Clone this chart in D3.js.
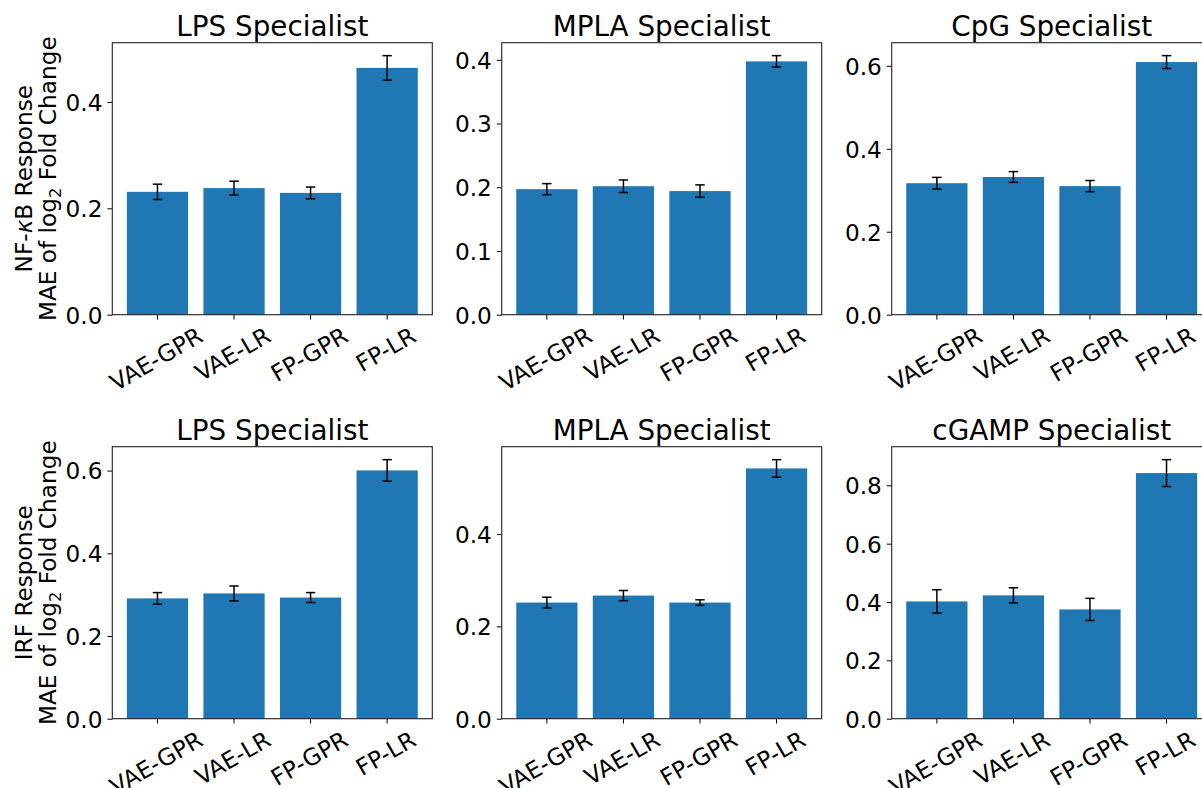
<!DOCTYPE html>
<html>
<head>
<meta charset="utf-8">
<script src="https://cdn.jsdelivr.net/npm/d3@7"></script>
<style>
  html, body { margin: 0; padding: 0; background: #fff; overflow: hidden; }
  svg { display: block; font-family: "DejaVu Sans", sans-serif; }
</style>
</head>
<body>
<svg id="chart" width="1202" height="788"></svg>
<script>
// ---- data ----
const categories = ["VAE-GPR", "VAE-LR", "FP-GPR", "FP-LR"];

const titlesTop = ["LPS Specialist", "MPLA Specialist", "CpG Specialist"];
const titlesBottom = ["LPS Specialist", "MPLA Specialist", "cGAMP Specialist"];

const nfkbLpsMean  = [0.231, 0.238, 0.229, 0.464];
const nfkbLpsErr   = [0.0144, 0.013, 0.011, 0.023];
const nfkbMplaMean = [0.197, 0.2016, 0.194, 0.3975];
const nfkbMplaErr  = [0.0087, 0.0098, 0.0097, 0.009];
const nfkbCpgMean  = [0.317, 0.332, 0.310, 0.609];
const nfkbCpgErr   = [0.014, 0.013, 0.0135, 0.0155];

const irfLpsMean   = [0.291, 0.303, 0.293, 0.6005];
const irfLpsErr    = [0.014, 0.018, 0.012, 0.026];
const irfMplaMean  = [0.2516, 0.2668, 0.2516, 0.5423];
const irfMplaErr   = [0.0116, 0.011, 0.006, 0.019];
const irfCgampMean = [0.402, 0.4227, 0.3746, 0.842];
const irfCgampErr  = [0.040, 0.026, 0.038, 0.046];

const ticksNfkbLps  = [0.0, 0.2, 0.4];
const ticksNfkbMpla = [0.0, 0.1, 0.2, 0.3, 0.4];
const ticksNfkbCpg  = [0.0, 0.2, 0.4, 0.6];
const ticksIrfLps   = [0.0, 0.2, 0.4, 0.6];
const ticksIrfMpla  = [0.0, 0.2, 0.4];
const ticksIrfCgamp = [0.0, 0.2, 0.4, 0.6, 0.8];

const rowLabels = ["NF-κB Response", "IRF Response"];

// ---- layout ----
const colLeft = [112.3, 501.7, 891.7];
const rowTop = [42.7, 446.7];
const panelW = 320, panelH = 272;
const barColor = "#1f77b4";
const tickFont = 23.2, titleFont = 27.8;

const panels = [
  {row: 0, col: 0, title: titlesTop[0], mean: nfkbLpsMean, err: nfkbLpsErr, ticks: ticksNfkbLps},
  {row: 0, col: 1, title: titlesTop[1], mean: nfkbMplaMean, err: nfkbMplaErr, ticks: ticksNfkbMpla},
  {row: 0, col: 2, title: titlesTop[2], mean: nfkbCpgMean, err: nfkbCpgErr, ticks: ticksNfkbCpg},
  {row: 1, col: 0, title: titlesBottom[0], mean: irfLpsMean, err: irfLpsErr, ticks: ticksIrfLps},
  {row: 1, col: 1, title: titlesBottom[1], mean: irfMplaMean, err: irfMplaErr, ticks: ticksIrfMpla},
  {row: 1, col: 2, title: titlesBottom[2], mean: irfCgampMean, err: irfCgampErr, ticks: ticksIrfCgamp},
];

const svg = d3.select("#chart");

panels.forEach(p => {
  const g = svg.append("g").attr("transform", `translate(${colLeft[p.col]},${rowTop[p.row]})`);
  const data = categories.map((c, i) => ({c, v: p.mean[i], e: p.err[i]}));
  const ymax = d3.max(data, d => d.v + d.e) * 1.05;

  const x = d3.scaleBand().domain(categories).range([0, panelW])
    .paddingInner(0.2).paddingOuter(0.19);
  const y = d3.scaleLinear().domain([0, ymax]).range([panelH, 0]);

  // bars
  g.selectAll("rect.bar").data(data).enter().append("rect")
    .attr("class", "bar")
    .attr("x", d => x(d.c)).attr("width", x.bandwidth())
    .attr("y", d => y(d.v)).attr("height", d => y(0) - y(d.v))
    .attr("fill", barColor);

  // error bars
  const eb = g.selectAll("g.err").data(data).enter().append("g").attr("class", "err")
    .attr("stroke", "#000").attr("stroke-width", 1.5);
  const cx = d => x(d.c) + x.bandwidth() / 2;
  eb.append("line").attr("x1", cx).attr("x2", cx)
    .attr("y1", d => y(d.v - d.e)).attr("y2", d => y(d.v + d.e));
  eb.append("line").attr("x1", d => cx(d) - 4.7).attr("x2", d => cx(d) + 4.7)
    .attr("y1", d => y(d.v + d.e)).attr("y2", d => y(d.v + d.e));
  eb.append("line").attr("x1", d => cx(d) - 4.7).attr("x2", d => cx(d) + 4.7)
    .attr("y1", d => y(d.v - d.e)).attr("y2", d => y(d.v - d.e));

  // y axis
  const ya = g.append("g").call(d3.axisLeft(y).tickValues(p.ticks).tickFormat(d3.format(".1f"))
    .tickSize(4.9).tickPadding(5));
  ya.select(".domain").remove();
  ya.selectAll(".tick line").attr("stroke", "#000").attr("stroke-width", 1);
  ya.selectAll(".tick text").attr("font-size", tickFont).attr("fill", "#000")
    .attr("font-family", "DejaVu Sans").attr("dy", "0.36em");

  // x axis
  const xa = g.append("g").attr("transform", `translate(0,${panelH})`)
    .call(d3.axisBottom(x).tickSize(4.9).tickPadding(0));
  xa.select(".domain").remove();
  xa.selectAll(".tick line").attr("stroke", "#000").attr("stroke-width", 1);
  xa.selectAll(".tick text").each(function() {
    const t = d3.select(this);
    t.attr("font-size", tickFont).attr("font-family", "DejaVu Sans").attr("fill", "#000")
      .attr("text-anchor", "middle").attr("dy", null).attr("y", 0)
      .attr("dominant-baseline", "central");
    const w = this.getComputedTextLength();
    const h = tickFont * 0.86;
    const a = 30 * Math.PI / 180;
    const halfH = (w / 2) * Math.sin(a) + (h / 2) * Math.cos(a);
    t.attr("transform", `translate(-1.5,${4.9 + 4.9 + halfH}) rotate(-30)`);
  });

  // frame
  g.append("rect").attr("x", 0).attr("y", 0).attr("width", panelW).attr("height", panelH)
    .attr("fill", "none").attr("stroke", "#222").attr("stroke-width", 1.1);

  // title
  g.append("text").attr("x", panelW / 2).attr("y", -6.7)
    .attr("text-anchor", "middle").attr("font-size", titleFont).attr("fill", "#000")
    .text(p.title);

  // y label on first column
  if (p.col === 0) {
    const cy = panelH / 2;
    const lab = rowLabels[p.row];
    // line 1
    const t1 = g.append("text")
      .attr("transform", `translate(${31.7 - colLeft[0]},${cy}) rotate(-90)`)
      .attr("text-anchor", "middle").attr("font-size", tickFont).attr("fill", "#000");
    if (lab.includes("κ")) {
      const parts = lab.split("κ");
      t1.append("tspan").text(parts[0]);
      t1.append("tspan").attr("font-style", "italic").text("κ");
      t1.append("tspan").text(parts[1]);
    } else {
      t1.text(lab);
    }
    // line 2
    const t2 = g.append("text")
      .attr("transform", `translate(${56 - colLeft[0]},${cy}) rotate(-90)`)
      .attr("text-anchor", "middle").attr("font-size", tickFont).attr("fill", "#000");
    t2.append("tspan").text("MAE of log");
    t2.append("tspan").attr("font-size", tickFont * 0.7).attr("dy", 4.5).text("2");
    t2.append("tspan").attr("dy", -4.5).text(" Fold Change");
  }
});
</script>
</body>
</html>
